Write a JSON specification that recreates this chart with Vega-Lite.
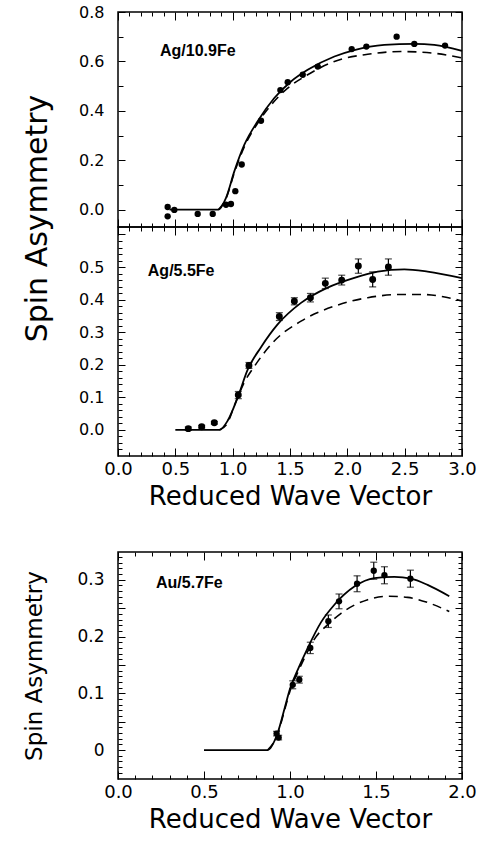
{
  "$schema": "https://vega.github.io/schema/vega-lite/v6.json",
  "background": "white",
  "padding": {"left": 21, "top": 3, "right": 10, "bottom": 4},
  "config": {
    "view": {"stroke": "black", "strokeWidth": 1.5},
    "axis": {"domain": false, "grid": false, "tickColor": "black", "tickWidth": 1, "labelColor": "black", "titleColor": "black", "titleFontWeight": "normal", "labelOverlap": false, "labelFlush": false, "labelFont": "DejaVu Sans", "titleFont": "DejaVu Sans"}
  },
  "datasets": {
    "top_solid": [
      {"x": 0.45, "y": 0}, {"x": 0.875, "y": 0}, {"x": 0.942, "y": 0.048}, {"x": 1.015, "y": 0.156}, {"x": 1.102, "y": 0.263}, {"x": 1.218, "y": 0.358}, {"x": 1.363, "y": 0.452}, {"x": 1.509, "y": 0.519}, {"x": 1.654, "y": 0.566}, {"x": 1.887, "y": 0.62}, {"x": 2.061, "y": 0.646}, {"x": 2.322, "y": 0.667}, {"x": 2.584, "y": 0.671}, {"x": 2.758, "y": 0.667}, {"x": 3.0, "y": 0.643}
    ],
    "top_dashed": [
      {"x": 0.875, "y": 0}, {"x": 0.942, "y": 0.045}, {"x": 1.015, "y": 0.15}, {"x": 1.102, "y": 0.255}, {"x": 1.218, "y": 0.35}, {"x": 1.363, "y": 0.439}, {"x": 1.48, "y": 0.492}, {"x": 1.654, "y": 0.546}, {"x": 1.887, "y": 0.6}, {"x": 2.178, "y": 0.629}, {"x": 2.468, "y": 0.64}, {"x": 2.758, "y": 0.633}, {"x": 3.0, "y": 0.614}
    ],
    "top_pts": [
      {"x": 0.433, "y": 0.011}, {"x": 0.433, "y": -0.027}, {"x": 0.491, "y": -0.001}, {"x": 0.695, "y": -0.017}, {"x": 0.826, "y": -0.017}, {"x": 0.942, "y": 0.02}, {"x": 0.985, "y": 0.023}, {"x": 1.023, "y": 0.075}, {"x": 1.079, "y": 0.183}, {"x": 1.247, "y": 0.36}, {"x": 1.416, "y": 0.484}, {"x": 1.48, "y": 0.516}, {"x": 1.611, "y": 0.546}, {"x": 1.742, "y": 0.579}, {"x": 2.038, "y": 0.65}, {"x": 2.166, "y": 0.66}, {"x": 2.43, "y": 0.7}, {"x": 2.584, "y": 0.671}, {"x": 2.852, "y": 0.664}
    ],
    "mid_solid": [
      {"x": 0.5, "y": 0}, {"x": 0.884, "y": 0}, {"x": 0.956, "y": 0.028}, {"x": 1.044, "y": 0.1}, {"x": 1.131, "y": 0.185}, {"x": 1.247, "y": 0.254}, {"x": 1.392, "y": 0.324}, {"x": 1.596, "y": 0.39}, {"x": 1.828, "y": 0.437}, {"x": 2.061, "y": 0.467}, {"x": 2.265, "y": 0.486}, {"x": 2.497, "y": 0.493}, {"x": 2.7, "y": 0.486}, {"x": 3.0, "y": 0.466}
    ],
    "mid_dashed": [
      {"x": 0.884, "y": 0}, {"x": 0.956, "y": 0.022}, {"x": 1.015, "y": 0.075}, {"x": 1.1, "y": 0.145}, {"x": 1.189, "y": 0.195}, {"x": 1.363, "y": 0.273}, {"x": 1.596, "y": 0.334}, {"x": 1.887, "y": 0.38}, {"x": 2.178, "y": 0.406}, {"x": 2.468, "y": 0.416}, {"x": 2.642, "y": 0.416}, {"x": 3.0, "y": 0.396}
    ],
    "mid_pts": [
      {"x": 0.613, "y": 0.004, "err": 0.005}, {"x": 0.73, "y": 0.01, "err": 0.004}, {"x": 0.84, "y": 0.022, "err": 0.004}, {"x": 1.049, "y": 0.107, "err": 0.011}, {"x": 1.142, "y": 0.198, "err": 0.009}, {"x": 1.407, "y": 0.348, "err": 0.012}, {"x": 1.538, "y": 0.395, "err": 0.011}, {"x": 1.678, "y": 0.406, "err": 0.013}, {"x": 1.808, "y": 0.45, "err": 0.016}, {"x": 1.951, "y": 0.46, "err": 0.015}, {"x": 2.096, "y": 0.503, "err": 0.022}, {"x": 2.221, "y": 0.462, "err": 0.023}, {"x": 2.358, "y": 0.5, "err": 0.025}
    ],
    "bot_solid": [
      {"x": 0.5, "y": 0}, {"x": 0.87, "y": 0}, {"x": 0.928, "y": 0.03}, {"x": 0.97, "y": 0.075}, {"x": 1.0, "y": 0.108}, {"x": 1.05, "y": 0.145}, {"x": 1.1, "y": 0.178}, {"x": 1.18, "y": 0.225}, {"x": 1.258, "y": 0.256}, {"x": 1.374, "y": 0.288}, {"x": 1.49, "y": 0.303}, {"x": 1.607, "y": 0.305}, {"x": 1.703, "y": 0.302}, {"x": 1.8, "y": 0.291}, {"x": 1.926, "y": 0.271}
    ],
    "bot_dashed": [
      {"x": 0.87, "y": 0}, {"x": 0.928, "y": 0.028}, {"x": 0.97, "y": 0.072}, {"x": 1.0, "y": 0.104}, {"x": 1.05, "y": 0.14}, {"x": 1.1, "y": 0.172}, {"x": 1.141, "y": 0.195}, {"x": 1.219, "y": 0.221}, {"x": 1.297, "y": 0.241}, {"x": 1.452, "y": 0.265}, {"x": 1.568, "y": 0.271}, {"x": 1.684, "y": 0.269}, {"x": 1.8, "y": 0.26}, {"x": 1.926, "y": 0.244}
    ],
    "bot_pts": [
      {"x": 0.922, "y": 0.029, "err": 0.004}, {"x": 0.934, "y": 0.022, "err": 0.004}, {"x": 1.016, "y": 0.115, "err": 0.007}, {"x": 1.054, "y": 0.124, "err": 0.006}, {"x": 1.118, "y": 0.18, "err": 0.01}, {"x": 1.223, "y": 0.227, "err": 0.011}, {"x": 1.285, "y": 0.262, "err": 0.013}, {"x": 1.39, "y": 0.293, "err": 0.014}, {"x": 1.487, "y": 0.316, "err": 0.015}, {"x": 1.549, "y": 0.308, "err": 0.015}, {"x": 1.7, "y": 0.302, "err": 0.015}
    ]
  },
  "vconcat": [
    {
      "spacing": 0,
      "bounds": "flush",
      "vconcat": [
        {
          "width": 344,
          "height": 215,
          "layer": [
            {
              "data": {"name": "top_solid"},
              "mark": {"type": "line", "color": "black", "strokeWidth": 1.8, "interpolate": "monotone"},
              "encoding": {
                "x": {"field": "x", "type": "quantitative", "scale": {"domain": [0, 3], "nice": false, "zero": false},
                  "axis": {"orient": "bottom", "labels": false, "title": null,
                    "values": [0,0.1,0.2,0.3,0.4,0.5,0.6,0.7,0.8,0.9,1,1.1,1.2,1.3,1.4,1.5,1.6,1.7,1.8,1.9,2,2.1,2.2,2.3,2.4,2.5,2.6,2.7,2.8,2.9,3],
                    "tickSize": {"condition": {"test": "round(datum.value*10) % 5 == 0", "value": -8}, "value": -4}}},
                "y": {"field": "y", "type": "quantitative", "scale": {"domain": [-0.07, 0.8], "nice": false, "zero": false},
                  "axis": {"orient": "left", "title": "Spin Asymmetry", "titleFontSize": 30, "titlePadding": 26, "titleY": 206,
                    "values": [0,0.1,0.2,0.3,0.4,0.5,0.6,0.7,0.8],
                    "labelExpr": "round(datum.value*10) % 2 == 0 ? format(datum.value, '.1f') : ''",
                    "labelFontSize": 16, "labelPadding": 21,
                    "tickSize": {"condition": {"test": "round(datum.value*10) % 2 == 0", "value": -7}, "value": -5}}}
              }
            },
            {
              "data": {"name": "top_dashed"},
              "mark": {"type": "line", "color": "black", "strokeWidth": 1.6, "strokeDash": [9, 6], "interpolate": "monotone"},
              "encoding": {
                "x": {"field": "x", "type": "quantitative",
                  "axis": {"orient": "top", "labels": false, "title": null,
                    "values": [0,0.1,0.2,0.3,0.4,0.5,0.6,0.7,0.8,0.9,1,1.1,1.2,1.3,1.4,1.5,1.6,1.7,1.8,1.9,2,2.1,2.2,2.3,2.4,2.5,2.6,2.7,2.8,2.9,3],
                    "tickSize": {"condition": {"test": "round(datum.value*10) % 5 == 0", "value": -8}, "value": -4}}},
                "y": {"field": "y", "type": "quantitative",
                  "axis": {"orient": "right", "labels": false, "title": null,
                    "values": [0,0.1,0.2,0.3,0.4,0.5,0.6,0.7,0.8],
                    "tickSize": {"condition": {"test": "round(datum.value*10) % 2 == 0", "value": -7}, "value": -5}}}
              }
            },
            {
              "data": {"name": "top_pts"},
              "mark": {"type": "circle", "color": "black", "opacity": 1, "size": 40},
              "encoding": {
                "x": {"field": "x", "type": "quantitative", "axis": null},
                "y": {"field": "y", "type": "quantitative", "axis": null}
              }
            },
            {
              "data": {"values": [{"label": "Ag/10.9Fe", "x": 0.366, "y": 0.62}]},
              "mark": {"type": "text", "font": "Liberation Sans", "fontWeight": "bold", "fontSize": 16, "align": "left", "baseline": "alphabetic", "color": "black"},
              "encoding": {
                "x": {"field": "x", "type": "quantitative", "axis": null},
                "y": {"field": "y", "type": "quantitative", "axis": null},
                "text": {"field": "label"}
              }
            }
          ],
          "resolve": {"axis": {"x": "independent", "y": "independent"}}
        },
        {
          "width": 344,
          "height": 229,
          "layer": [
            {
              "data": {"name": "mid_solid"},
              "mark": {"type": "line", "color": "black", "strokeWidth": 1.8, "interpolate": "monotone"},
              "encoding": {
                "x": {"field": "x", "type": "quantitative", "scale": {"domain": [0, 3], "nice": false, "zero": false},
                  "axis": {"orient": "bottom", "title": "Reduced Wave Vector", "titleFontSize": 26, "titlePadding": 1,
                    "values": [0,0.1,0.2,0.3,0.4,0.5,0.6,0.7,0.8,0.9,1,1.1,1.2,1.3,1.4,1.5,1.6,1.7,1.8,1.9,2,2.1,2.2,2.3,2.4,2.5,2.6,2.7,2.8,2.9,3],
                    "labelExpr": "round(datum.value*10) % 5 == 0 ? format(datum.value, '.1f') : ''",
                    "labelFontSize": 18, "labelPadding": 12,
                    "tickSize": {"condition": {"test": "round(datum.value*10) % 5 == 0", "value": -8}, "value": -4}}},
                "y": {"field": "y", "type": "quantitative", "scale": {"domain": [-0.08, 0.623], "nice": false, "zero": false},
                  "axis": {"orient": "left", "title": null,
                    "values": [-0.06,-0.04,-0.02,0,0.02,0.04,0.06,0.08,0.1,0.12,0.14,0.16,0.18,0.2,0.22,0.24,0.26,0.28,0.3,0.32,0.34,0.36,0.38,0.4,0.42,0.44,0.46,0.48,0.5,0.52,0.54,0.56,0.58,0.6],
                    "labelExpr": "round(datum.value*100) % 10 == 0 && datum.value > -0.01 && datum.value < 0.55 ? format(datum.value, '.1f') : ''",
                    "labelFontSize": 16, "labelPadding": 21,
                    "tickSize": {"condition": {"test": "round(datum.value*100) % 10 == 0", "value": -7}, "value": -4}}}
              }
            },
            {
              "data": {"name": "mid_dashed"},
              "mark": {"type": "line", "color": "black", "strokeWidth": 1.6, "strokeDash": [9, 6], "interpolate": "monotone"},
              "encoding": {
                "x": {"field": "x", "type": "quantitative",
                  "axis": {"orient": "top", "labels": false, "title": null,
                    "values": [0,0.1,0.2,0.3,0.4,0.5,0.6,0.7,0.8,0.9,1,1.1,1.2,1.3,1.4,1.5,1.6,1.7,1.8,1.9,2,2.1,2.2,2.3,2.4,2.5,2.6,2.7,2.8,2.9,3],
                    "tickSize": {"condition": {"test": "round(datum.value*10) % 5 == 0", "value": -8}, "value": -4}}},
                "y": {"field": "y", "type": "quantitative",
                  "axis": {"orient": "right", "labels": false, "title": null,
                    "values": [-0.06,-0.04,-0.02,0,0.02,0.04,0.06,0.08,0.1,0.12,0.14,0.16,0.18,0.2,0.22,0.24,0.26,0.28,0.3,0.32,0.34,0.36,0.38,0.4,0.42,0.44,0.46,0.48,0.5,0.52,0.54,0.56,0.58,0.6],
                    "tickSize": {"condition": {"test": "round(datum.value*100) % 10 == 0", "value": -7}, "value": -4}}}
              }
            },
            {
              "data": {"name": "mid_pts"},
              "mark": {"type": "errorbar", "color": "black", "thickness": 1.2, "ticks": {"size": 7, "thickness": 1.2, "color": "black"}},
              "encoding": {
                "x": {"field": "x", "type": "quantitative", "axis": null},
                "y": {"field": "y", "type": "quantitative", "axis": null},
                "yError": {"field": "err"}
              }
            },
            {
              "data": {"name": "mid_pts"},
              "mark": {"type": "circle", "color": "black", "opacity": 1, "size": 48},
              "encoding": {
                "x": {"field": "x", "type": "quantitative", "axis": null},
                "y": {"field": "y", "type": "quantitative", "axis": null}
              }
            },
            {
              "data": {"values": [{"label": "Ag/5.5Fe", "x": 0.26, "y": 0.473}]},
              "mark": {"type": "text", "font": "Liberation Sans", "fontWeight": "bold", "fontSize": 16, "align": "left", "baseline": "alphabetic", "color": "black"},
              "encoding": {
                "x": {"field": "x", "type": "quantitative", "axis": null},
                "y": {"field": "y", "type": "quantitative", "axis": null},
                "text": {"field": "label"}
              }
            }
          ],
          "resolve": {"axis": {"x": "independent", "y": "independent"}}
        }
      ]
    },
    {
      "width": 344,
      "height": 227,
      "layer": [
        {
          "data": {"name": "bot_solid"},
          "mark": {"type": "line", "color": "black", "strokeWidth": 1.8, "interpolate": "monotone"},
          "encoding": {
            "x": {"field": "x", "type": "quantitative", "scale": {"domain": [0, 2], "nice": false, "zero": false},
              "axis": {"orient": "bottom", "title": "Reduced Wave Vector", "titleFontSize": 26, "titlePadding": 1,
                "values": [0,0.1,0.2,0.3,0.4,0.5,0.6,0.7,0.8,0.9,1,1.1,1.2,1.3,1.4,1.5,1.6,1.7,1.8,1.9,2],
                "labelExpr": "round(datum.value*10) % 5 == 0 ? format(datum.value, '.1f') : ''",
                "labelFontSize": 18, "labelPadding": 12,
                "tickSize": {"condition": {"test": "round(datum.value*10) % 5 == 0", "value": -8}, "value": -4}}},
            "y": {"field": "y", "type": "quantitative", "scale": {"domain": [-0.051, 0.349], "nice": false, "zero": false},
              "axis": {"orient": "left", "title": "Spin Asymmetry", "titleFontSize": 23, "titlePadding": 30,
                "values": [-0.04,-0.03,-0.02,-0.01,0,0.01,0.02,0.03,0.04,0.05,0.06,0.07,0.08,0.09,0.1,0.11,0.12,0.13,0.14,0.15,0.16,0.17,0.18,0.19,0.2,0.21,0.22,0.23,0.24,0.25,0.26,0.27,0.28,0.29,0.3,0.31,0.32,0.33,0.34],
                "labelExpr": "round(datum.value*100) % 10 == 0 && datum.value > -0.005 ? (abs(datum.value) < 0.001 ? '0' : format(datum.value, '.1f')) : ''",
                "labelFontSize": 17, "labelPadding": 21,
                "tickSize": {"condition": {"test": "round(datum.value*100) % 5 == 0", "value": -7}, "value": -4}}}
          }
        },
        {
          "data": {"name": "bot_dashed"},
          "mark": {"type": "line", "color": "black", "strokeWidth": 1.6, "strokeDash": [9, 6], "interpolate": "monotone"},
          "encoding": {
            "x": {"field": "x", "type": "quantitative",
              "axis": {"orient": "top", "labels": false, "title": null,
                "values": [0,0.1,0.2,0.3,0.4,0.5,0.6,0.7,0.8,0.9,1,1.1,1.2,1.3,1.4,1.5,1.6,1.7,1.8,1.9,2],
                "tickSize": {"condition": {"test": "round(datum.value*10) % 5 == 0", "value": -8}, "value": -4}}},
            "y": {"field": "y", "type": "quantitative",
              "axis": {"orient": "right", "labels": false, "title": null,
                "values": [-0.04,-0.03,-0.02,-0.01,0,0.01,0.02,0.03,0.04,0.05,0.06,0.07,0.08,0.09,0.1,0.11,0.12,0.13,0.14,0.15,0.16,0.17,0.18,0.19,0.2,0.21,0.22,0.23,0.24,0.25,0.26,0.27,0.28,0.29,0.3,0.31,0.32,0.33,0.34],
                "tickSize": {"condition": {"test": "round(datum.value*100) % 5 == 0", "value": -7}, "value": -4}}}
          }
        },
        {
          "data": {"name": "bot_pts"},
          "mark": {"type": "errorbar", "color": "black", "thickness": 1.2, "ticks": {"size": 7, "thickness": 1.2, "color": "black"}},
          "encoding": {
            "x": {"field": "x", "type": "quantitative", "axis": null},
            "y": {"field": "y", "type": "quantitative", "axis": null},
            "yError": {"field": "err"}
          }
        },
        {
          "data": {"name": "bot_pts"},
          "mark": {"type": "circle", "color": "black", "opacity": 1, "size": 40},
          "encoding": {
            "x": {"field": "x", "type": "quantitative", "axis": null},
            "y": {"field": "y", "type": "quantitative", "axis": null}
          }
        },
        {
          "data": {"values": [{"label": "Au/5.7Fe", "x": 0.221, "y": 0.285}]},
          "mark": {"type": "text", "font": "Liberation Sans", "fontWeight": "bold", "fontSize": 16, "align": "left", "baseline": "alphabetic", "color": "black"},
          "encoding": {
            "x": {"field": "x", "type": "quantitative", "axis": null},
            "y": {"field": "y", "type": "quantitative", "axis": null},
            "text": {"field": "label"}
          }
        }
      ],
      "resolve": {"axis": {"x": "independent", "y": "independent"}}
    }
  ],
  "spacing": 37
}
